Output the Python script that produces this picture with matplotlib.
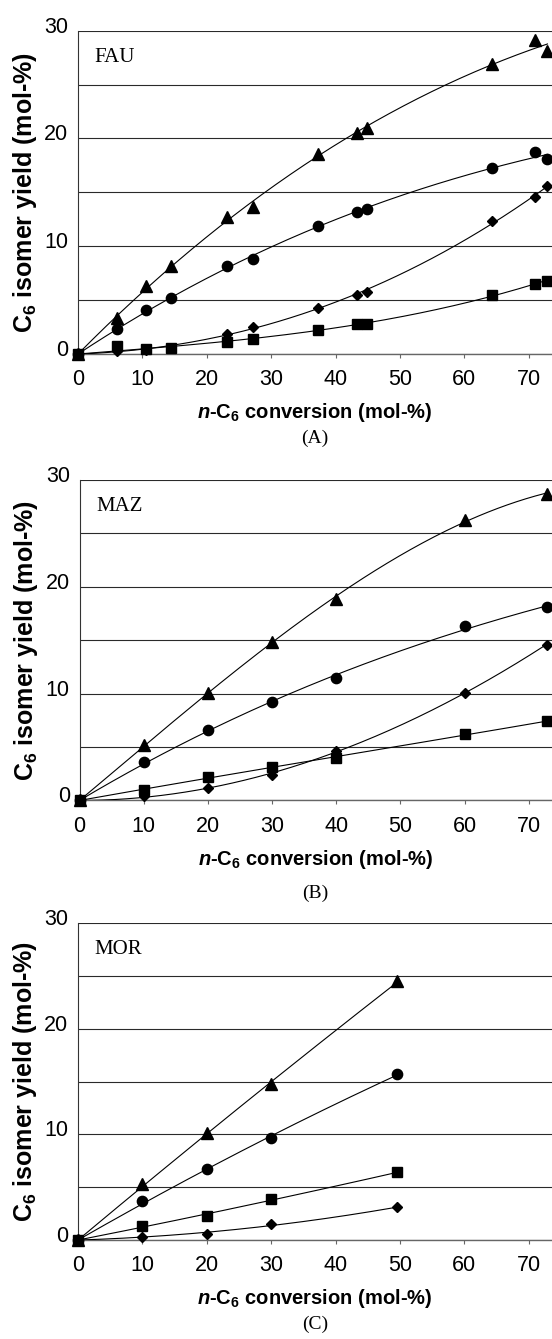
import numpy as np
import matplotlib.pyplot as plt
import matplotlib.transforms as mtransforms
from matplotlib.ticker import MultipleLocator

plt.rcParams['font.family'] = ['Liberation Sans', 'DejaVu Sans']
plt.rcParams['mathtext.fontset'] = 'custom'
plt.rcParams['mathtext.rm'] = 'Liberation Sans:bold'
plt.rcParams['mathtext.it'] = 'Liberation Sans:italic:bold'
plt.rcParams['mathtext.bf'] = 'Liberation Sans:bold'

# (A) FAU
fau_x = [0, 6.1, 10.6, 14.4, 23.1, 27.1, 37.3, 43.3, 44.8, 64.3, 71.0, 72.9]
fau_tri = [0, 3.3, 6.3, 8.2, 12.7, 13.6, 18.6, 20.5, 21.0, 26.9, 29.1, 28.1]
fau_circ = [0, 2.3, 4.1, 5.2, 8.2, 8.8, 11.9, 13.2, 13.5, 17.3, 18.7, 18.1]
fau_dia = [0, 0.3, 0.4, 0.6, 1.9, 2.5, 4.3, 5.5, 5.8, 12.3, 14.6, 15.6]
fau_sq = [0, 0.7, 0.5, 0.6, 1.1, 1.4, 2.2, 2.8, 2.8, 5.5, 6.5, 6.8]

# (B) MAZ
maz_x = [0, 10, 20, 30, 40, 60, 72.8]
maz_tri = [0, 5.2, 10.1, 14.8, 18.9, 26.3, 28.7]
maz_circ = [0, 3.6, 6.6, 9.2, 11.5, 16.3, 18.1]
maz_dia = [0, 0.4, 1.2, 2.4, 4.6, 10.1, 14.6]
maz_sq = [0, 1.0, 2.2, 3.1, 4.0, 6.2, 7.4]

# (C) MOR
mor_x = [0, 10, 20, 30, 49.6]
mor_tri = [0, 5.3, 10.1, 14.8, 24.5]
mor_circ = [0, 3.7, 6.7, 9.7, 15.7]
mor_sq = [0, 1.3, 2.3, 3.9, 6.4]
mor_dia = [0, 0.3, 0.6, 1.5, 3.1]

markers = {'tri': ('^', 8.8), 'circ': ('o', 7.4), 'dia': ('D', 5.2), 'sq': ('s', 7.2)}


def trend(x, y, deg):
    # polynomial trend line forced through the origin
    x = np.asarray(x, float)
    y = np.asarray(y, float)
    A = np.column_stack([x**k for k in range(1, deg + 1)])
    c = np.linalg.lstsq(A, y, rcond=None)[0]
    xs = np.linspace(0, x.max(), 200)
    ys = sum(c[k - 1] * xs**k for k in range(1, deg + 1))
    return xs, ys


def panel(rect, x, series, deg, name):
    ax = fig.add_axes(rect)
    for key, y in series.items():
        xs, ys = trend(x, y, deg)
        ax.plot(xs, ys, color='black', lw=0.8, zorder=3)
        m, ms = markers[key]
        ax.plot(x, y, m, ms=ms, color='black', zorder=4, clip_on=False)
    ax.set_xlim(0, 73.6)
    ax.set_ylim(0, 30)
    ax.xaxis.set_major_locator(MultipleLocator(10))
    ax.yaxis.set_major_locator(MultipleLocator(10))
    ax.yaxis.set_minor_locator(MultipleLocator(5))
    ax.grid(True, which='both', axis='y', color='#2a2a2a', lw=0.8)
    ax.set_axisbelow(True)
    for s in ['top', 'right']:
        ax.spines[s].set_visible(False)
    ax.spines['left'].set_color('#333333')
    ax.spines['bottom'].set_color('#666666')
    ax.spines['left'].set_linewidth(0.8)
    ax.spines['bottom'].set_linewidth(1.0)
    ax.tick_params(axis='x', length=3, width=0.8, color='#666666', labelsize=15.5, pad=8)
    ax.tick_params(axis='y', which='both', length=0, labelsize=15.5, pad=7)
    # y tick labels sit a little above their grid lines
    up = mtransforms.ScaledTranslation(0, 0.06, fig.dpi_scale_trans)
    for t in ax.get_yticklabels():
        t.set_transform(t.get_transform() + up)
    ax.set_xlabel(r'$\mathit{n}$-C$_{6}$ conversion (mol-%)', fontsize=14.5,
                  fontweight='bold', labelpad=8)
    ax.set_ylabel(r'C$_{6}$ isomer yield (mol-%)', fontsize=18,
                  fontweight='bold', labelpad=4)
    ax.text(2.6, 27.5, name, fontsize=15, family='Liberation Serif',
            ha='left', va='center')
    return ax


fig = plt.figure(figsize=(5.52, 13.39), dpi=100)

panel([78 / 552, 0.7356, 1 - 78 / 552, 0.2415], fau_x,
      {'tri': fau_tri, 'circ': fau_circ, 'dia': fau_dia, 'sq': fau_sq}, 3, 'FAU')
panel([79.5 / 552, 0.4022, 1 - 79.5 / 552, 0.2393], maz_x,
      {'tri': maz_tri, 'circ': maz_circ, 'dia': maz_dia, 'sq': maz_sq}, 3, 'MAZ')
panel([78 / 552, 0.0739, 1 - 78 / 552, 0.2365], mor_x,
      {'tri': mor_tri, 'circ': mor_circ, 'sq': mor_sq, 'dia': mor_dia}, 2, 'MOR')

for lab, ypx in [('(A)', 438), ('(B)', 893), ('(C)', 1324)]:
    fig.text(315 / 552, 1 - ypx / 1339, lab, fontsize=14, family='Liberation Serif',
             ha='center', va='center')

fig.savefig('out.png', dpi=100)
